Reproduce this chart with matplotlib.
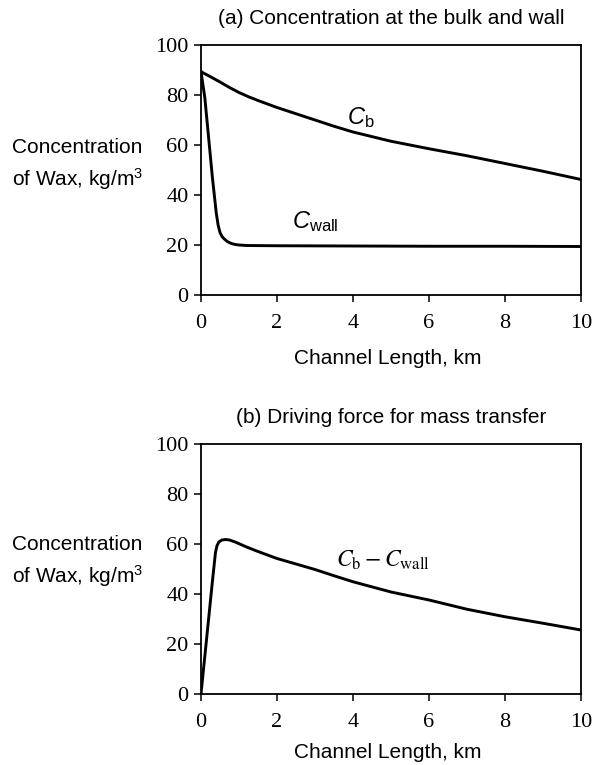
import matplotlib
matplotlib.use("Agg")
import matplotlib.pyplot as plt

plt.rcParams['mathtext.fontset'] = 'custom'
plt.rcParams['mathtext.rm'] = 'Liberation Sans'
plt.rcParams['mathtext.it'] = 'Liberation Sans:italic'

# --- data ---
x_cb = [0, 0.25, 0.5, 0.75, 1, 1.25, 1.5, 2, 2.5, 3, 3.5, 4, 5, 6, 7, 8, 9, 10]
cb = [89.3, 87.3, 85.2, 83.0, 81.0, 79.3, 77.8, 75.0, 72.5, 70.0, 67.5, 65.2, 61.5, 58.5, 55.7, 52.6, 49.5, 46.2]

x_cwall = [0, 0.1, 0.2, 0.3, 0.4, 0.45, 0.5, 0.55, 0.6, 0.7, 0.8, 0.9, 1.0, 1.2, 2, 4, 6, 8, 10]
cwall = [89.3, 79, 63, 47, 33, 28, 25, 23.5, 22.6, 21.3, 20.6, 20.2, 20.0, 19.8, 19.7, 19.6, 19.5, 19.5, 19.4]

x_diff = [0, 0.1, 0.2, 0.3, 0.38, 0.42, 0.47, 0.55, 0.65, 0.75, 0.9, 1.2, 1.5, 2, 2.5, 3, 3.5, 4, 5, 6, 7, 8, 9, 10]
diff = [0, 15, 30, 45, 56.5, 59.3, 60.8, 61.6, 61.8, 61.6, 60.8, 58.8, 57, 54.2, 52.0, 49.8, 47.3, 44.9, 40.8, 37.6, 33.9, 30.9, 28.3, 25.6]

xticks = [0, 2, 4, 6, 8, 10]
yticks = [0, 20, 40, 60, 80, 100]

W, H = 595, 765
fig = plt.figure(figsize=(W / 100, H / 100), dpi=100)

def px_axes(left, top, right, bottom):
    return fig.add_axes([left / W, 1 - bottom / H, (right - left) / W, (bottom - top) / H])

ax1 = px_axes(201, 45, 581, 295)
ax2 = px_axes(201, 444, 581, 694)

sans = 'Liberation Sans'
serif = 'Liberation Serif'

for ax in (ax1, ax2):
    ax.set_xlim(0, 10)
    ax.set_ylim(0, 100)
    ax.set_xticks(xticks)
    ax.set_yticks(yticks)
    ax.tick_params(direction='out', length=5, width=1.1,
                   top=False, right=False, pad=4)
    for sp in ax.spines.values():
        sp.set_linewidth(1.3)
    ax.set_xticklabels([str(t) for t in xticks], fontfamily=serif, fontsize=16)
    ax.set_yticklabels([str(t) for t in yticks], fontfamily=serif, fontsize=16)
    ax.tick_params(axis='x', pad=9)

ax1.plot(x_cb, cb, color='black', lw=2.1)
ax1.plot(x_cwall, cwall, color='black', lw=2.1)
ax2.plot(x_diff, diff, color='black', lw=2.1)

ax1.text(4.2, 71, r'$C_{\mathrm{b}}$', fontsize=17, ha='center', va='center', math_fontfamily='custom')
ax1.text(3.0, 29.5, r'$C_{\mathrm{wall}}$', fontsize=17, ha='center', va='center', math_fontfamily='custom')
ax2.text(4.8, 53.5, r'$C_{\mathrm{b}} - C_{\mathrm{wall}}$', fontsize=17, ha='center', va='center', math_fontfamily='stix')

fig.text(391 / W, 1 - 18 / H, '(a) Concentration at the bulk and wall', fontsize=15,
         fontfamily=sans, ha='center', va='center')
fig.text(391 / W, 1 - 418 / H, '(b) Driving force for mass transfer', fontsize=15,
         fontfamily=sans, ha='center', va='center')
fig.text(388 / W, 1 - 358 / H, 'Channel Length, km', fontsize=15,
         fontfamily=sans, ha='center', va='center')
fig.text(388 / W, 1 - 753 / H, 'Channel Length, km', fontsize=15,
         fontfamily=sans, ha='center', va='center')

ylab = 'Concentration\nof Wax, kg/m$^3$'
fig.text(12 / W, 1 - 165 / H, ylab, fontsize=15, fontfamily=sans, ha='left', va='center',
         linespacing=1.45, math_fontfamily='custom')
fig.text(12 / W, 1 - 562 / H, ylab, fontsize=15, fontfamily=sans, ha='left', va='center',
         linespacing=1.45, math_fontfamily='custom')

fig.savefig('out.png', dpi=100)
